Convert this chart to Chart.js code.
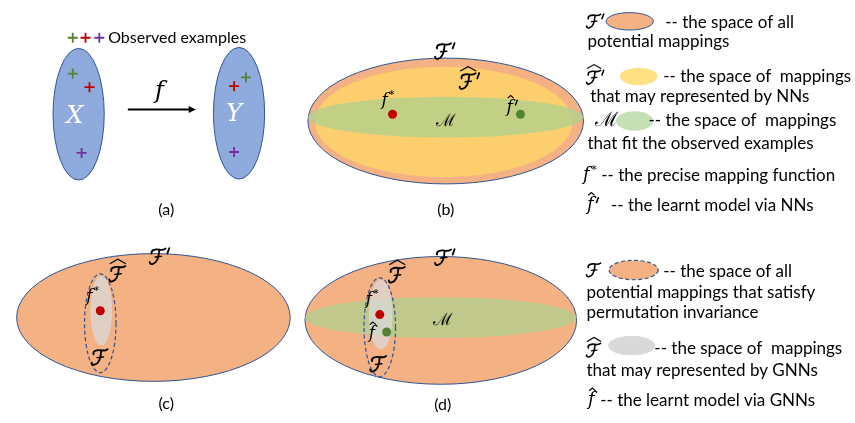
<!DOCTYPE html>
<html>
<head>
<meta charset="utf-8">
<script src="https://cdn.jsdelivr.net/npm/chart.js@4.4.1/dist/chart.umd.min.js"></script>
<style>
  html, body { margin: 0; padding: 0; background: #fff; }
  #wrap { width: 855px; height: 423px; }
</style>
</head>
<body>
<div id="wrap"><canvas id="fig"></canvas></div>
<script>
// diagram space is 0..855 x 0..423 (y down), everything goes through the chart scales

// regions: [cx, cy, rx, ry]
const bigRegions = [[446, 118, 140, 65], [149, 321, 139, 66], [441, 324, 138, 66]];
const nnRegion = [444, 119, 131, 57];
const fitRegions = [[446, 114, 140, 21], [441, 321, 138, 21]];
const setRegions = [[73, 111, 26, 68], [236, 110, 26, 68]];
const permRegions = [[95, 327, 16, 51], [379, 331, 16, 51]];
const gnnRegions = [[96, 314, 11, 36], [380, 318, 12, 36]];

// points
const trueFns = [{x: 392, y: 111}, {x: 95, y: 314}, {x: 379, y: 318}];
const learntFns = [{x: 522, y: 111}, {x: 386, y: 336}];
const greenObs = [{x: 67, y: 32}, {x: 67, y: 69}, {x: 243, y: 73}];
const redObs = [{x: 80, y: 32}, {x: 84, y: 83}, {x: 231, y: 82}];
const purpleObs = [{x: 94, y: 32}, {x: 76, y: 151}, {x: 231, y: 150}];

const panelLabels = ['(a)', '(b)', '(c)', '(d)'];
const panelLabelPos = [[162, 210], [446, 210], [162, 410], [443, 411]];

const legendLines = [
  '-- the space of all', 'potential mappings',
  '-- the space of  mappings', 'that may represented by NNs',
  '-- the space of  mappings', 'that fit the observed examples',
  '-- the precise mapping function', '-- the learnt model via NNs',
  '-- the space of all', 'potential mappings that satisfy', 'permutation invariance',
  '-- the space of  mappings', 'that may represented by GNNs',
  '-- the learnt model via GNNs'
];
const legendLinePos = [
  [669, 16], [590, 36], [667, 72], [593, 93], [652, 118], [590, 141],
  [604, 174], [614, 205],
  [667, 273], [589, 295], [589, 316], [658, 353], [589, 376], [603, 407]
];
// legend swatches: [cx, cy, rx, ry]
const swatches = [[633, 15, 24, 9], [642, 72, 19, 9], [638, 118, 19, 10], [637, 272, 25, 10], [635, 350, 24, 10]];

const SALMON = '#f4b183', BLUE = '#2f5597', YELLOW = 'rgba(255, 217, 102, 0.72)';
const GREEN = 'rgba(169, 209, 142, 0.7)', GREY = 'rgba(217, 217, 217, 0.75)';
const TXT = "Lato, 'Open Sans', sans-serif";
const MATH = "'DejaVu Serif', serif";

function px(chart, x, y) {
  const s = chart.scales;
  return [s.x.getPixelForValue(x), s.y.getPixelForValue(y)];
}

function ellipse(chart, r, fill, stroke, dash) {
  const ctx = chart.ctx;
  const [cx, cy] = px(chart, r[0], r[1]);
  const [ex, ey] = px(chart, r[0] + r[2], r[1] + r[3]);
  ctx.save();
  ctx.beginPath();
  ctx.ellipse(cx, cy, Math.abs(ex - cx), Math.abs(ey - cy), 0, 0, Math.PI * 2);
  if (fill) { ctx.fillStyle = fill; ctx.fill(); }
  if (stroke) {
    ctx.strokeStyle = stroke;
    ctx.lineWidth = dash ? 1.2 : 1;
    if (dash) ctx.setLineDash([4, 2.5]);
    ctx.stroke();
  }
  ctx.restore();
}

function hat(ctx, x, y, w, h) {
  ctx.save();
  ctx.beginPath();
  ctx.moveTo(x - w / 2, y);
  ctx.lineTo(x, y - h);
  ctx.lineTo(x + w / 2, y);
  ctx.lineWidth = 1.2;
  ctx.strokeStyle = '#000';
  ctx.stroke();
  ctx.restore();
}

function prime(ctx, x, y, h) {
  ctx.save();
  ctx.beginPath();
  ctx.moveTo(x + h * 0.1, y);
  ctx.lineTo(x - h * 0.02, y + h * 0.34);
  ctx.lineWidth = Math.max(1.3, h * 0.11);
  ctx.lineCap = 'round';
  ctx.strokeStyle = '#000';
  ctx.stroke();
  ctx.restore();
}

// calligraphic F, centred on X,Y with glyph height h
function calF(ctx, X, Y, h) {
  const P = (u, v) => [X + (u - 0.5) * h, Y + (v - 0.5) * h];
  ctx.save();
  ctx.strokeStyle = '#000';
  ctx.lineCap = 'round';
  ctx.lineJoin = 'round';
  ctx.lineWidth = h * 0.115;
  ctx.beginPath();
  ctx.moveTo(...P(0.14, 0.32));
  ctx.bezierCurveTo(...P(0.08, 0.12), ...P(0.35, 0.02), ...P(0.6, 0.07));
  ctx.quadraticCurveTo(...P(0.85, 0.12), ...P(1.02, 0.0));
  ctx.stroke();
  ctx.beginPath();
  ctx.moveTo(...P(0.62, 0.08));
  ctx.bezierCurveTo(...P(0.6, 0.45), ...P(0.52, 0.9), ...P(0.2, 0.97));
  ctx.quadraticCurveTo(...P(0.03, 1.0), ...P(0.02, 0.84));
  ctx.stroke();
  ctx.lineWidth = h * 0.09;
  ctx.beginPath();
  ctx.moveTo(...P(0.36, 0.53));
  ctx.lineTo(...P(0.76, 0.49));
  ctx.stroke();
  ctx.restore();
}

// kind: F, Fp, Fh, Fhp, M, fs, fh, fhp ; x = centre of the letter
function sym(chart, kind, x, y, size) {
  const ctx = chart.ctx;
  const [X, Y] = px(chart, x, y);
  ctx.save();
  ctx.fillStyle = '#000';
  ctx.textBaseline = 'middle';
  ctx.textAlign = 'center';
  if (kind[0] === 'F') {
    calF(ctx, X, Y, size);
    if (kind.includes('p')) prime(ctx, X + size * 0.64, Y - size * 0.52, size);
    if (kind.includes('h')) hat(ctx, X + size * 0.05, Y - size * 0.64, size * 1.0, size * 0.28);
  } else if (kind === 'M') {
    ctx.font = size + 'px ' + MATH;
    ctx.fillText('\u2133', X, Y);
  } else {
    ctx.font = 'italic ' + size + 'px ' + MATH;
    ctx.fillText('f', X, Y);
    if (kind === 'fs') {
      ctx.font = (size * 0.6) + 'px ' + MATH;
      ctx.fillText('*', X + size * 0.42, Y - size * 0.3);
    }
    if (kind.includes('h')) hat(ctx, X + 1, Y - size * 0.55, size * 0.35, size * 0.15);
    if (kind === 'fhp') prime(ctx, X + size * 0.36, Y - size * 0.42, size * 0.8);
  }
  ctx.restore();
}

function text(chart, s, x, y, size, align, font, color) {
  const ctx = chart.ctx;
  const [X, Y] = px(chart, x, y);
  ctx.save();
  ctx.font = (font || (size + 'px ' + TXT));
  ctx.fillStyle = color || '#000';
  ctx.textAlign = align || 'left';
  ctx.textBaseline = 'middle';
  ctx.fillText(s, X, Y);
  ctx.restore();
}

const shapes = {
  id: 'shapes',
  beforeDatasetsDraw(chart) {
    // (a) sets and arrow
    setRegions.forEach(r => ellipse(chart, r, '#8faadc', BLUE));
    const ctx = chart.ctx;
    const [ax0, ay] = px(chart, 123, 106);
    const [ax1] = px(chart, 192, 106);
    ctx.save();
    ctx.strokeStyle = '#000'; ctx.fillStyle = '#000'; ctx.lineWidth = 2;
    ctx.beginPath(); ctx.moveTo(ax0, ay); ctx.lineTo(ax1 - 5, ay); ctx.stroke();
    ctx.beginPath(); ctx.moveTo(ax1, ay); ctx.lineTo(ax1 - 7, ay - 3.5); ctx.lineTo(ax1 - 7, ay + 3.5); ctx.closePath(); ctx.fill();
    ctx.restore();
    text(chart, 'X', 69, 114, 24, 'center', 'italic 24px ' + MATH, '#fff');
    text(chart, 'Y', 231, 112, 24, 'center', 'italic 24px ' + MATH, '#fff');
    text(chart, 'f', 155, 88, 24, 'center', 'italic 24px ' + MATH);

    // (b), (c), (d) spaces
    bigRegions.forEach(r => ellipse(chart, r, SALMON, BLUE));
    ellipse(chart, nnRegion, YELLOW);
    fitRegions.forEach(r => ellipse(chart, r, GREEN));
    gnnRegions.forEach(r => ellipse(chart, r, GREY));
    permRegions.forEach(r => ellipse(chart, r, null, BLUE, true));

    // legend swatches
    ellipse(chart, swatches[0], SALMON, BLUE);
    ellipse(chart, swatches[1], '#ffe083');
    ellipse(chart, swatches[2], '#c5e0b4');
    ellipse(chart, swatches[3], SALMON, BLUE, true);
    ellipse(chart, swatches[4], '#d9d9d9');
  },
  afterDatasetsDraw(chart) {
    text(chart, 'Observed examples', 103, 32, 16);
    panelLabels.forEach((s, i) => text(chart, s, panelLabelPos[i][0], panelLabelPos[i][1], 16, 'center'));
    legendLines.forEach((s, i) => text(chart, s, legendLinePos[i][0], legendLinePos[i][1], 17));

    // (b)
    sym(chart, 'Fp', 443, 46, 16);
    sym(chart, 'Fhp', 468, 77, 16);
    sym(chart, 'M', 446, 119, 17);
    sym(chart, 'fs', 384, 97, 17);
    sym(chart, 'fhp', 511, 104, 17);
    // (c)
    sym(chart, 'Fp', 153, 258, 16);
    sym(chart, 'Fh', 112, 276, 16);
    sym(chart, 'F', 94, 362, 16);
    sym(chart, 'fs', 84, 299, 17);
    // (d)
    sym(chart, 'Fp', 443, 259, 16);
    sym(chart, 'Fh', 396, 277, 16);
    sym(chart, 'F', 377, 369, 16);
    sym(chart, 'M', 443, 324, 17);
    sym(chart, 'fs', 368, 302, 17);
    sym(chart, 'fh', 371, 338, 17);
    // legend symbols
    sym(chart, 'Fp', 596, 15, 14);
    sym(chart, 'Fhp', 596, 73, 14);
    sym(chart, 'M', 609, 118, 20);
    sym(chart, 'fs', 589, 174, 18);
    sym(chart, 'fhp', 593, 205, 18);
    sym(chart, 'F', 596, 272, 14);
    sym(chart, 'Fh', 596, 355, 14);
    sym(chart, 'fh', 594, 407, 18);
  }
};

function crossSet(data, color) {
  return { data, pointStyle: 'cross', pointRadius: 5, pointHoverRadius: 5,
           borderColor: color, backgroundColor: color, pointBorderWidth: 1.8, showLine: false };
}
function dotSet(data, color) {
  return { data, pointStyle: 'circle', pointRadius: 4.5, pointHoverRadius: 4.5,
           borderColor: color, backgroundColor: color, pointBorderWidth: 0, showLine: false };
}

new Chart(document.getElementById('fig'), {
  type: 'scatter',
  data: {
    datasets: [
      crossSet(greenObs, '#548235'),
      crossSet(redObs, '#c00000'),
      crossSet(purpleObs, '#7030a0'),
      dotSet(trueFns, '#c00000'),
      dotSet(learntFns, '#548235')
    ]
  },
  options: {
    responsive: true,
    maintainAspectRatio: false,
    animation: false,
    events: [],
    layout: { padding: 0 },
    plugins: { legend: { display: false }, tooltip: { enabled: false } },
    scales: {
      x: { type: 'linear', min: 0, max: 855, display: false },
      y: { type: 'linear', min: 0, max: 423, reverse: true, display: false }
    }
  },
  plugins: [shapes]
});
</script>
</body>
</html>
